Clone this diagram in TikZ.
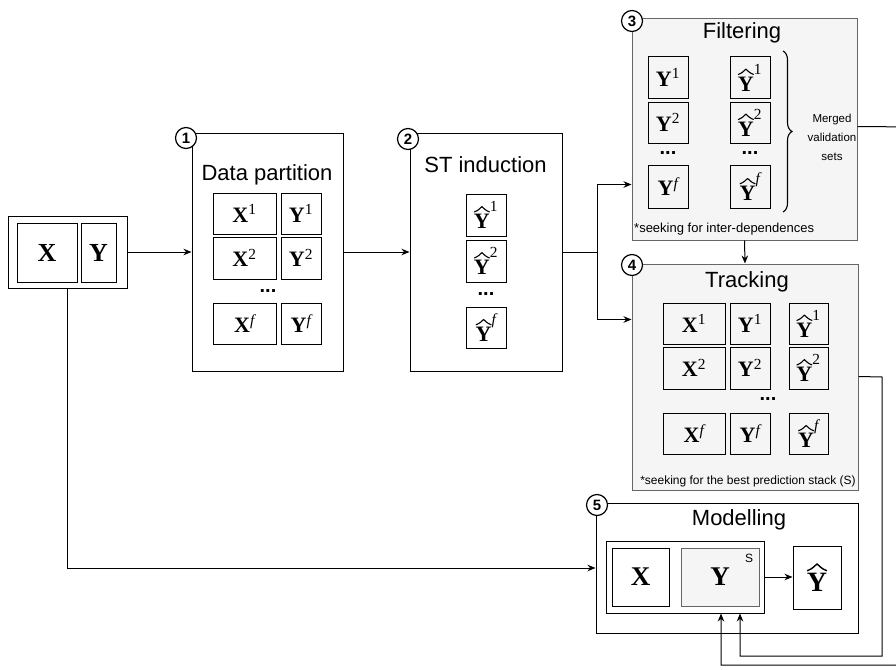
\documentclass[tikz,border=0pt]{standalone}
\usepackage{fontspec}
\usepackage{amsmath}
\setmainfont{Liberation Sans}
\newfontfamily\tnr{Liberation Serif}
\usetikzlibrary{arrows.meta,decorations.pathreplacing,calc}
\definecolor{grayline}{HTML}{666666}
\definecolor{grayfill}{HTML}{F5F5F5}
\newcommand{\fs}[1]{\fontsize{#1}{#1}\selectfont}
\newcommand{\VX}[1]{{\tnr\bfseries X}\textsuperscript{\tnr #1}}
\newcommand{\VY}[1]{{\tnr\bfseries Y}\textsuperscript{\tnr #1}}
\newcommand{\HY}{\tikz[baseline=(yy.base),x=1pt,y=1pt,every node/.style={}]{%
  \node[draw=none,fill=none,rectangle,minimum width=0pt,minimum height=0pt,inner sep=0pt,outer sep=0pt,font=\tnr\bfseries] (yy) {Y};
  \draw[line width=0.05em,line join=round,line cap=round,draw=black,fill=none]
    ([xshift=0.02em,yshift=0.1em]yy.north west) .. controls +(0.2em,0.08em) and +(-0.12em,-0.1em) .. ([yshift=0.34em]yy.north)
    .. controls +(0.12em,-0.1em) and +(-0.2em,0.08em) .. ([xshift=-0.02em,yshift=0.1em]yy.north east);}}
\newcommand{\VH}[1]{$\mbox{\HY}^{\text{\tnr #1}}$}
\begin{document}
\begin{tikzpicture}[x=1pt,y=-1pt,
  box/.style={draw=black,line width=1pt,rectangle,inner sep=0pt},
  gbox/.style={draw=grayline,fill=grayfill,line width=1pt,rectangle,inner sep=0pt},
  cell/.style={draw=black,line width=1pt,rectangle,inner sep=0pt,font=\fs{22}},
  ttl/.style={font=\fs{22},anchor=base,inner sep=0pt},
  num/.style={circle,draw=black,fill=white,line width=1.2pt,minimum size=21pt,inner sep=0pt,font=\bfseries\fs{15}},
  arr/.style={-{Stealth[length=8pt,width=6.5pt]},line width=1pt},
  ln/.style={line width=1pt},
  dotsn/.style={font=\bfseries\fs{20},inner sep=0pt},
  note/.style={font=\fs{12},inner sep=0pt}]
\useasboundingbox (0,0) rectangle (896,669);
\clip (0,0) rectangle (896,669);

% input
\node[box,minimum width=119pt,minimum height=72pt] (in) at (67.5,252) {};
\node[cell,minimum width=60pt,minimum height=59pt,font=\fs{26}] (inX) at (47,252.5) {\tnr\bfseries X};
\node[cell,minimum width=35pt,minimum height=59pt,font=\fs{26}] (inY) at (98.5,252.5) {\tnr\bfseries Y};

% stage 1
\node[box,minimum width=151pt,minimum height=238pt] (b1) at (267.5,252) {};
\node[ttl] (t1) at (267,180) {Data partition};
\node[cell,minimum width=63pt,minimum height=41pt] (x11) at (244.5,213.5) {\VX{1}};
\node[cell,minimum width=40pt,minimum height=41pt] (y11) at (301,213.5) {\VY{1}};
\node[cell,minimum width=63pt,minimum height=42pt] (x12) at (244.5,258) {\VX{2}};
\node[cell,minimum width=40pt,minimum height=42pt] (y12) at (301,258) {\VY{2}};
\node[dotsn] (d1) at (268,291) {...};
\node[cell,minimum width=63pt,minimum height=41pt] (x1f) at (244.5,323.5) {\VX{\itshape f}};
\node[cell,minimum width=40pt,minimum height=41pt] (y1f) at (301,323.5) {\VY{\itshape f}};

% stage 2
\node[box,minimum width=152pt,minimum height=238pt] (b2) at (486,252) {};
\node[ttl] (t2) at (485.5,172) {ST induction};
\node[cell,minimum width=40pt,minimum height=42pt] (h21) at (486,215) {\VH{1}};
\node[cell,minimum width=40pt,minimum height=42pt] (h22) at (486,261) {\VH{2}};
\node[dotsn] (d2) at (486,294) {...};
\node[cell,minimum width=40pt,minimum height=41pt] (h2f) at (486,327.5) {\VH{\itshape f}};

% stage 3 filtering
\node[gbox,minimum width=225pt,minimum height=221pt] (b3) at (744.5,129.5) {};
\node[ttl] (t3) at (742,38) {Filtering};
\node[cell,minimum width=40pt,minimum height=41pt] (y31) at (668,77.5) {\VY{1}};
\node[cell,minimum width=40pt,minimum height=41pt] (y32) at (668,122.5) {\VY{2}};
\node[dotsn] (d3a) at (668,153) {...};
\node[cell,minimum width=40pt,minimum height=43pt] (y3f) at (668,186.5) {\VY{\itshape f}};
\node[cell,minimum width=40pt,minimum height=41pt] (h31) at (750,77.5) {\VH{1}};
\node[cell,minimum width=40pt,minimum height=41pt] (h32) at (750,122.5) {\VH{2}};
\node[dotsn] (d3b) at (750,153) {...};
\node[cell,minimum width=40pt,minimum height=43pt] (h3f) at (750,186.5) {\VH{\itshape f}};
\draw[decorate,decoration={brace,amplitude=9pt},line width=1.1pt] (783,51) -- (783,212);
\node[font=\fontsize{11.5}{19}\selectfont,align=center,inner sep=0pt] (mv) at (832,137) {Merged\\validation\\sets};
\node[note,anchor=west,font=\fs{13}] (n3) at (634,229) {*seeking for inter-dependences};

% stage 4 tracking
\node[gbox,minimum width=226pt,minimum height=226pt] (b4) at (745,377) {};
\node[ttl] (t4) at (747,287) {Tracking};
\node[cell,minimum width=62pt,minimum height=41pt] (x41) at (694,323.5) {\VX{1}};
\node[cell,minimum width=40pt,minimum height=41pt] (y41) at (750,323.5) {\VY{1}};
\node[cell,minimum width=39pt,minimum height=41pt] (h41) at (808.5,323.5) {\VH{1}};
\node[cell,minimum width=62pt,minimum height=42pt] (x42) at (694,368) {\VX{2}};
\node[cell,minimum width=40pt,minimum height=42pt] (y42) at (750,368) {\VY{2}};
\node[cell,minimum width=39pt,minimum height=42pt] (h42) at (808.5,368) {\VH{2}};
\node[dotsn] (d4) at (768,399) {...};
\node[cell,minimum width=62pt,minimum height=41pt] (x4f) at (694,433.5) {\VX{\itshape f}};
\node[cell,minimum width=40pt,minimum height=41pt] (y4f) at (750,433.5) {\VY{\itshape f}};
\node[cell,minimum width=39pt,minimum height=41pt] (h4f) at (808.5,433.5) {\VH{\itshape f}};
\node[note] (n4) at (748,481) {*seeking for the best prediction stack (S)};

% stage 5 modelling
\node[box,minimum width=262pt,minimum height=130pt] (b5) at (727,568) {};
\node[ttl] (t5) at (739,525) {Modelling};
\node[box,minimum width=158pt,minimum height=72pt] (g) at (685,577) {};
\node[cell,minimum width=57pt,minimum height=58pt,font=\fs{27}] (mX) at (640.5,577) {\tnr\bfseries X};
\node[gbox,minimum width=78pt,minimum height=58pt,font=\fs{27}] (mY) at (720,577) {\tnr\bfseries Y};
\node[font=\fs{12},inner sep=0pt] (sl) at (749,558) {S};
\node[cell,minimum width=48pt,minimum height=63pt,font=\fs{28}] (mH) at (817,577.5) {\HY};

% step numbers
\node[num] (c1) at (186,138) {1};
\node[num] (c2) at (408,139) {2};
\node[num] (c3) at (632,21) {3};
\node[num] (c4) at (632,265) {4};
\node[num] (c5) at (597,505) {5};

% connectors
\coordinate (j) at (597,252);
\draw[arr] (in.east) -- (b1.west);
\draw[arr] (b1.east) -- (b2.west);
\draw[ln] (b2.east) -- (j);
\draw[arr] (j) |- ($(b3.north west)+(0,166)$);
\draw[arr] (j) |- ($(b4.north west)+(0,56)$);
\draw[arr] (b3.south) -- (b4.north);
\coordinate (r1) at (915,127);
\coordinate (r2) at (915,665);
\draw[arr] ($(b3.north east)+(0,108)$) -- (r1) -- (r2) -| ($(g.south)+(36,0)$);
\coordinate (q1) at (882,377);
\coordinate (q2) at (882,656);
\draw[arr] ($(b4.north east)+(0,113)$) -- (q1) -- (q2) -| ($(g.south)+(55,0)$);
\draw[arr] (in.south) |- (b5.west);
\draw[arr] (g.east) -- (mH.west |- g.east);
\end{tikzpicture}
\end{document}
